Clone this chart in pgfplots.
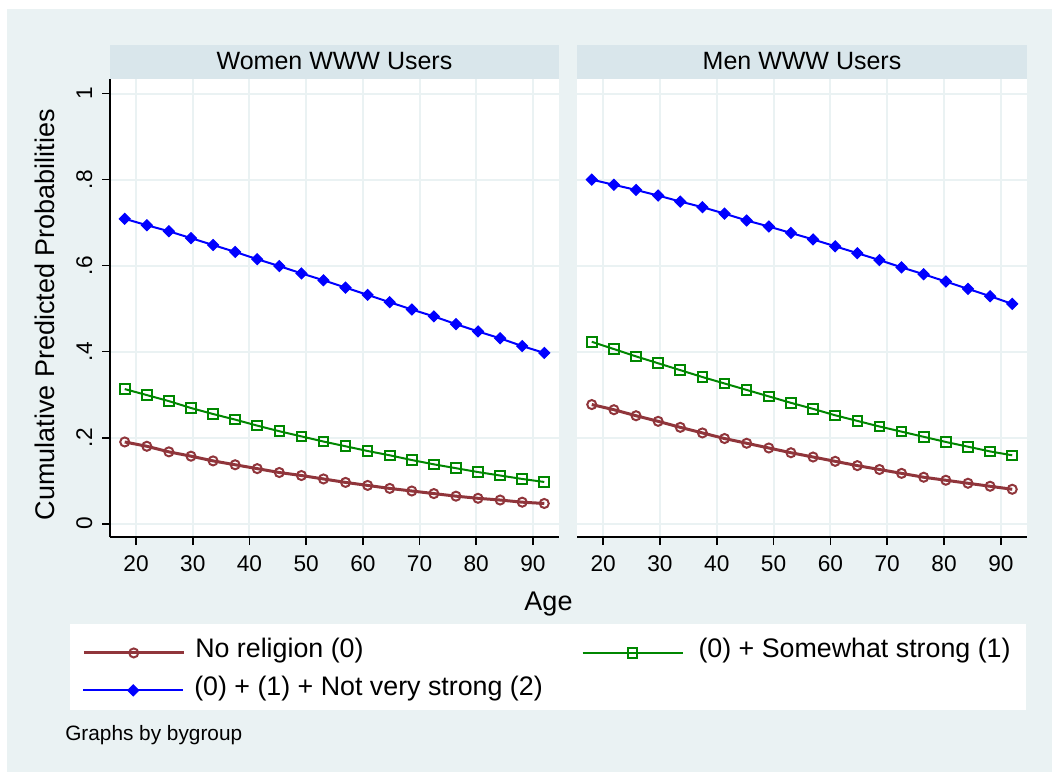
\documentclass[border=0pt]{standalone}
\usepackage{fontspec}
\setmainfont{Liberation Sans}
\usepackage{pgfplots}
\usepackage{pgfplotstable}
\pgfplotsset{compat=1.18}
\definecolor{bgc}{RGB}{234,242,243}
\definecolor{stripc}{RGB}{217,230,235}
\definecolor{gridc}{RGB}{234,242,243}
\definecolor{sred}{RGB}{144,53,59}
\definecolor{sgreen}{RGB}{0,135,0}
\definecolor{sblue}{RGB}{0,0,255}

\pgfplotstableread{
age wr wg wb mr mg mb
18.000 0.190 0.313 0.709 0.277 0.423 0.800
21.895 0.180 0.299 0.694 0.265 0.406 0.788
25.789 0.167 0.285 0.680 0.251 0.389 0.776
29.684 0.157 0.269 0.664 0.238 0.373 0.763
33.579 0.146 0.255 0.648 0.224 0.357 0.749
37.474 0.137 0.242 0.632 0.211 0.341 0.736
41.368 0.128 0.228 0.615 0.198 0.326 0.721
45.263 0.119 0.215 0.599 0.187 0.311 0.705
49.158 0.112 0.203 0.582 0.176 0.296 0.691
53.053 0.104 0.191 0.566 0.165 0.281 0.676
56.947 0.096 0.180 0.549 0.155 0.267 0.661
60.842 0.089 0.169 0.532 0.145 0.252 0.645
64.737 0.082 0.159 0.515 0.135 0.239 0.629
68.632 0.076 0.148 0.498 0.126 0.226 0.613
72.526 0.070 0.138 0.482 0.117 0.214 0.596
76.421 0.064 0.129 0.464 0.108 0.202 0.580
80.316 0.059 0.120 0.447 0.101 0.190 0.563
84.211 0.055 0.112 0.431 0.094 0.179 0.546
88.105 0.050 0.104 0.413 0.087 0.168 0.529
92.000 0.047 0.097 0.397 0.080 0.159 0.511
}\data

\pgfplotsset{
  common/.style={
    scale only axis, height=343.5pt,
    xmin=15.4, xmax=94.6, ymin=-0.031, ymax=1.034,
    axis x line*=bottom, axis y line*=left,
    x axis line style={-, black, line width=1.25pt},
    y axis line style={-, black, line width=1.25pt},
    xtick={20,30,40,50,60,70,80,90},
    xticklabels={20,30,40,50,60,70,80,90},
    ytick={0,0.2,0.4,0.6,0.8,1},
    yticklabels={0,.2,.4,.6,.8,1},
    tick align=outside, major tick length=6pt,
    xtick style={black, line width=1.25pt},
    ytick style={black, line width=1.25pt},
    grid=major, major grid style={gridc, line width=1.5pt},
    axis background/.style={fill=white},
    xticklabel style={anchor=base, inner sep=0pt, yshift=-20pt, font=\fontsize{17}{17}\selectfont},
    yticklabel style={xshift=-7.5pt, rotate=90, anchor=base, inner sep=0pt, font=\fontsize{17}{17}\selectfont},
    every axis title/.style={at={(0.5,1)}, anchor=south, fill=stripc, inner sep=0pt,
      minimum height=25.5pt, text height=13.4pt, text depth=2.4pt,
      font=\fontsize{18.75}{18.75}\selectfont},
    legend image code/.code={\draw[mark repeat=2, mark phase=2, ##1] plot coordinates {(0pt,0pt) (37.5pt,0pt) (75pt,0pt)};},
    legend cell align=left,
  },
  leg/.style={anchor=north west, draw=none, fill=none,
    inner sep=0pt, font=\fontsize{20.1}{20.1}\selectfont,
    nodes={inner sep=0pt, text height=0.858em, text depth=0.142em}},
  sr/.style={sred, line width=2.25pt, mark=o, mark size=3.4pt, mark options={solid, line width=1.5pt}},
  sg/.style={sgreen, line width=1.5pt, mark=square, mark size=3.6pt, mark options={solid, line width=1.5pt}},
  sb/.style={sblue, line width=1.5pt, mark=square*, mark size=2.9pt, mark options={solid, rotate=45, line width=0.8pt}},
}

\begin{document}
\begin{tikzpicture}[x=0.75pt,y=0.75pt]
\fill[white] (0,0) rectangle (1052,-772);
\fill[bgc] (7,-9) rectangle (1052,-772);
\fill[white] (70,-624) rectangle (1026,-710);
\coordinate (P1) at (110,-537);
\coordinate (P2) at (577,-537);

\begin{axis}[common, at={(P1)}, anchor=south west, width=336.75pt,
  title={Women WWW Users}, title style={minimum width=336.75pt},
  xlabel={Age}, ylabel={Cumulative Predicted Probabilities},
  xlabel style={at={(axis description cs:0.9766,-0.1594)}, anchor=base, inner sep=0pt, font=\fontsize{20.25}{20.25}\selectfont},
  ylabel style={at={(axis description cs:-0.1225,0.4858)}, anchor=base, inner sep=0pt, font=\fontsize{20.25}{20.25}\selectfont},
  legend columns=2,
  legend style={leg, at={(-0.0624,-0.238)},
    /tikz/column 1/.style={column sep=7.5pt},
    /tikz/column 2/.style={column sep=163.5pt},
    /tikz/column 3/.style={column sep=11.25pt}},
]
\addplot[sr] table[x=age,y=wr]{\data};
\addlegendentry{No religion (0)}
\addplot[sg] table[x=age,y=wg]{\data};
\addlegendentry{(0) + Somewhat strong (1)}
\addplot[sb] table[x=age,y=wb]{\data};
\end{axis}

\begin{axis}[common, at={(P2)}, anchor=south west, width=337.5pt,
  title={Men WWW Users}, title style={minimum width=337.5pt},
  ytick style={draw=none}, yticklabels={}, y axis line style={draw=none},
  legend style={leg, at={(-1.1,-0.3197)},
    /tikz/column 1/.style={column sep=7.5pt}},
]
\addplot[sb] table[x=age,y=mb]{\data};
\addlegendentry{(0) + (1) + Not very strong (2)}
\addplot[sr] table[x=age,y=mr]{\data};
\addplot[sg] table[x=age,y=mg]{\data};
\end{axis}

\node[anchor=base west, inner sep=0pt, font=\fontsize{15.6}{15.6}\selectfont] at (65,-740.5) {Graphs by bygroup};
\pgfresetboundingbox
\path[use as bounding box] (0,0) rectangle (1052,-772);
\end{tikzpicture}
\end{document}
